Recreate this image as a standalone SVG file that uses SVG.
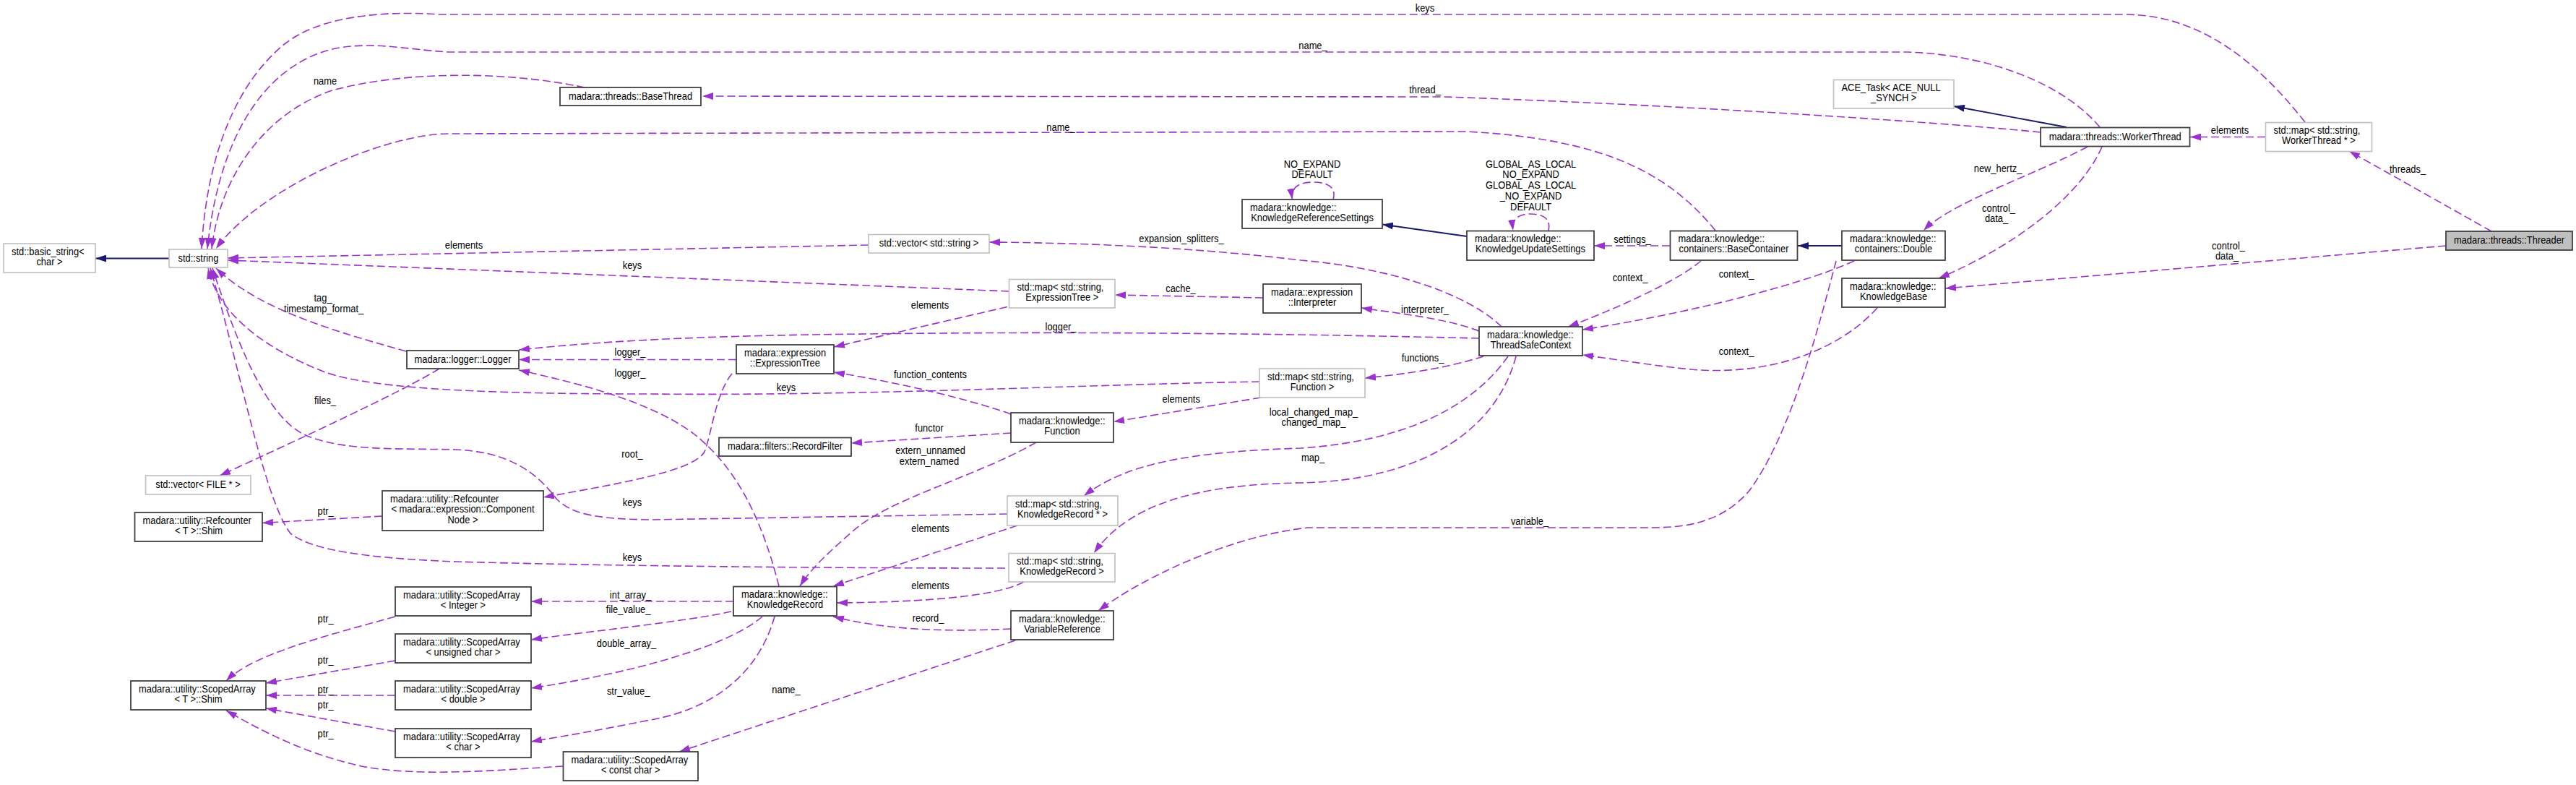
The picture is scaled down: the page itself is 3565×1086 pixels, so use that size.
<svg xmlns="http://www.w3.org/2000/svg" width="3565" height="1086" viewBox="0 0 3565 1086">
<style>
text{font-family:"Liberation Sans",Arial,sans-serif;font-size:15px;fill:#000;transform-box:fill-box;transform:scaleX(0.86)}
.m{text-anchor:middle;transform-origin:50% 50%}
.s{text-anchor:start;transform-origin:0 50%}
.nb{fill:#fff;stroke:#404040;stroke-width:1.8}
.ng{fill:#fff;stroke:#bfbfbf;stroke-width:1.6}
.nf{fill:#bfbfbf;stroke:#404040;stroke-width:1.8}
.e{fill:none;stroke:#9a32cd;stroke-width:1.6;stroke-dasharray:11,5;marker-end:url(#ap)}
.i{fill:none;stroke:#191970;stroke-width:1.8;marker-end:url(#an)}
</style>
<defs>
<marker id="ap" viewBox="0 0 15 10" refX="15" refY="5" markerWidth="15" markerHeight="10" markerUnits="userSpaceOnUse" orient="auto"><path d="M0,0 L15,5 L0,10 z" fill="#9a32cd"/></marker>
<marker id="an" viewBox="0 0 15 10" refX="15" refY="5" markerWidth="15" markerHeight="10" markerUnits="userSpaceOnUse" orient="auto"><path d="M0,0 L15,5 L0,10 z" fill="#191970"/></marker>
</defs>
<rect width="3565" height="1086" fill="#fff"/>
<g id="edges">
<g><path class="e" d="M3190,169 C3120,80 3040,20 2940,20 L610,20 C520,14 440,25 395,60 C320,120 285,230 279,344"/><text class="m" x="1972" y="16.5">keys</text></g>
<g><path class="e" d="M2906,176 C2860,120 2760,76 2640,72 L620,72 C560,68 520,58 470,66 C380,82 305,170 287,344"/><text class="m" x="1817" y="68.5">name_</text></g>
<g><path class="e" d="M809,121 C700,98 560,98 460,125 C370,155 305,240 293,344"/><text class="m" x="450" y="117.5">name</text></g>
<g><path class="e" d="M2374,319 C2310,240 2220,192 2030,182 L620,185 C530,186 360,260 299,344"/><text class="m" x="1468" y="181.5">name_</text></g>
<g><path class="e" d="M2824,183 C2750,175 2400,148 2000,134 L972,133"/><text class="m" x="1972" y="129">thread_</text></g>
<g><path class="i" d="M2860,176 L2704,147"/></g>
<g><path class="e" d="M3135,189.5 L3031,189.5"/><text class="m" x="3086" y="185">elements</text></g>
<g><path class="e" d="M3448,320 L3251,209"/><text class="m" x="3332" y="239.5">threads_</text></g>
<g><path class="e" d="M3385,340 L2692,399"/><text class="m" x="3084" y="345.5">control_</text><text class="m" x="3082" y="359.5">data_</text></g>
<g><path class="e" d="M2889,203 C2820,240 2700,280 2662,319"/><text class="m" x="2765" y="238.5">new_hertz_</text></g>
<g><path class="e" d="M2909,203 C2880,270 2790,340 2683,385"/><text class="m" x="2766" y="293.5">control_</text><text class="m" x="2763" y="307.5">data_</text></g>
<g><path class="i" d="M2549,340 L2488,340"/></g>
<g><path class="e" d="M2311,340 L2206,340"/><text class="m" x="2259" y="336">settings_</text></g>
<g><path class="i" d="M2030,327 L1913,310.5"/></g>
<g><path class="e" d="M1845,276 C1850,258 1836,252 1817,252 C1797,252 1786,260 1788.5,276"/><text class="m" x="1816" y="232.5">NO_EXPAND</text><text class="m" x="1816" y="246.5">DEFAULT</text></g>
<g><path class="e" d="M2143,319 C2147,302 2134,296 2118,296 C2100,296 2092,304 2094,319"/><text class="m" x="2118.6" y="232.5">GLOBAL_AS_LOCAL</text><text class="m" x="2118.6" y="246.5">NO_EXPAND</text><text class="m" x="2118.6" y="261.5">GLOBAL_AS_LOCAL</text><text class="m" x="2118.6" y="276.5">_NO_EXPAND</text><text class="m" x="2118.6" y="291">DEFAULT</text></g>
<g><path class="e" d="M2354,361 C2320,390 2230,430 2170,452"/><text class="m" x="2256" y="389.5">context_</text></g>
<g><path class="e" d="M2566,361 C2480,400 2300,440 2190,456"/><text class="m" x="2403" y="384.5">context_</text></g>
<g><path class="e" d="M2598,426 C2540,490 2440,520 2340,511 C2280,505 2230,496 2190,491"/><text class="m" x="2403" y="491.5">context_</text></g>
<g><path class="e" d="M2541,361 C2520,440 2480,600 2420,680 C2380,725 2330,730 2282,730 L1810,730 C1700,742 1580,800 1520,845"/><text class="m" x="2117" y="726.5">variable_</text></g>
<g><path class="e" d="M2047,458 C2000,440 1930,433 1884,426"/><text class="m" x="1972" y="433.5">interpreter_</text></g>
<g><path class="e" d="M1748,412 L1543,408"/><text class="m" x="1634" y="404.5">cache_</text></g>
<g><path class="e" d="M2078,452 C2030,405 1920,370 1800,360 C1650,342 1500,336 1369,335"/><text class="m" x="1635" y="335.5">expansion_splitters_</text></g>
<g><path class="e" d="M1202,339 L315,357"/><text class="m" x="642" y="344">elements</text></g>
<g><path class="e" d="M1396,403 C1200,395 900,383 315,360"/><text class="m" x="875" y="372.5">keys</text></g>
<g><path class="e" d="M1394,424.5 L1154,480"/><text class="m" x="1287" y="427.5">elements</text></g>
<g><path class="e" d="M1019,497.5 L718,497.5"/><text class="m" x="872" y="492.5">logger_</text></g>
<g><path class="e" d="M2047,468 C1800,462 1500,458 1200,462 C1000,464 850,470 718,484"/><text class="m" x="1468" y="457">logger_</text></g>
<g><path class="e" d="M1078,811 C1050,700 1010,640 960,600 C900,555 800,530 718,512"/><text class="m" x="872" y="521.5">logger_</text></g>
<g><path class="e" d="M608,510 C560,540 420,605 304,658"/><text class="m" x="450" y="559">files_</text></g>
<g><path class="e" d="M562,486 C470,460 360,430 299,371"/><text class="m" x="447" y="417.5">tag_</text><text class="m" x="448" y="432.5">timestamp_format_</text></g>
<g><path class="e" d="M1743,528 C1500,532 1200,548 900,545 C700,545 520,540 450,515 C360,480 300,430 288,371"/><text class="m" x="1088" y="541.5">keys</text></g>
<g><path class="e" d="M1394,711 L900,719 C820,718 790,710 770,690 C740,650 700,625 631,622 C560,620 480,625 425,603 C370,580 330,480 294,371"/><text class="m" x="875" y="700">keys</text></g>
<g><path class="e" d="M1391,786 C1100,786 800,782 631,777 C500,772 430,760 402,738 C365,690 330,500 291,371"/><text class="m" x="875" y="776">keys</text></g>
<g><path class="e" d="M1013,517 C990,545 985,600 975,625 C960,650 880,665 752,688"/><text class="m" x="875" y="633">root_</text></g>
<g><path class="e" d="M529,714 L363,723.5"/><text class="m" x="450.6" y="712.3">ptr_</text></g>
<g><path class="e" d="M1015,832 L735,832"/><text class="m" x="872.5" y="828.3">int_array_</text></g>
<g><path class="e" d="M1012,846 C950,860 800,875 735,885"/><text class="m" x="869.6" y="848">file_value_</text></g>
<g><path class="e" d="M1055,853 C1000,900 850,935 735,952"/><text class="m" x="867" y="895">double_array_</text></g>
<g><path class="e" d="M1072,853 C1050,930 990,980 900,996 C820,1012 770,1020 735,1026"/><text class="m" x="869.6" y="961.3">str_value_</text></g>
<g><path class="e" d="M547,853 C450,880 350,905 313,942"/><text class="m" x="450.6" y="861.4">ptr_</text></g>
<g><path class="e" d="M547,914 L368,945"/><text class="m" x="450.6" y="917.8">ptr_</text></g>
<g><path class="e" d="M547,962 L368,962"/><text class="m" x="450.6" y="958.9">ptr_</text></g>
<g><path class="e" d="M547,1012 L368,980"/><text class="m" x="450.6" y="979.8">ptr_</text></g>
<g><path class="e" d="M779.5,1060 C680,1066 580,1075 500,1060 C420,1042 360,1010 313,983"/><text class="m" x="450.6" y="1019.8">ptr_</text></g>
<g><path class="e" d="M1405,886 L940,1040"/><text class="m" x="1088" y="958.9">name_</text></g>
<g><path class="e" d="M1399,870 C1300,875 1220,870 1153,853"/><text class="m" x="1284.6" y="860.3">record_</text></g>
<g><path class="e" d="M1417,805 C1380,825 1280,833 1158,834"/><text class="m" x="1287.5" y="815">elements</text></g>
<g><path class="e" d="M1408,727 L1153,811"/><text class="m" x="1287.5" y="736">elements</text></g>
<g><path class="e" d="M1434,612 C1350,660 1230,690 1180,735 C1140,770 1120,790 1107,811"/><text class="m" x="1287.5" y="628">extern_unnamed</text><text class="m" x="1286" y="643">extern_named</text></g>
<g><path class="e" d="M1399,599 L1178,613"/><text class="m" x="1286" y="596.7">functor</text></g>
<g><path class="e" d="M1745,550 L1541,583.5"/><text class="m" x="1634.7" y="557.4">elements</text></g>
<g><path class="e" d="M1399,573 C1350,555 1250,530 1154,515"/><text class="m" x="1287.5" y="523">function_contents</text></g>
<g><path class="e" d="M2053,493 C2000,510 1940,518 1889,523"/><text class="m" x="1969" y="500.5">functions_</text></g>
<g><path class="e" d="M2087,493 C2040,560 1950,610 1800,620 C1650,625 1560,640 1500,686"/><text class="m" x="1818" y="575.5">local_changed_map_</text><text class="m" x="1818" y="589.5">changed_map_</text></g>
<g><path class="e" d="M2098,493 C2070,600 1960,665 1800,668 C1650,670 1560,700 1514,765"/><text class="m" x="1817" y="638.5">map_</text></g>
<g><path class="i" d="M234,357.5 L132,357.5"/></g>
</g>
<g id="n_basic_string"><rect class="ng" x="5" y="337" width="127" height="40"/><text class="s" x="16" y="353">std::basic_string&lt;</text><text class="m" x="68.5" y="367">char &gt;</text></g>
<g id="n_string"><rect class="ng" x="234" y="345" width="81" height="25"/><text class="m" x="274.5" y="362">std::string</text></g>
<g id="n_basethread"><rect class="nb" x="775" y="121" width="195" height="25"/><text class="m" x="872.5" y="138">madara::threads::BaseThread</text></g>
<g id="n_logger"><rect class="nb" x="563" y="485" width="155" height="25"/><text class="m" x="640.5" y="502">madara::logger::Logger</text></g>
<g id="n_vecfile"><rect class="ng" x="201.5" y="658" width="145.5" height="26"/><text class="m" x="274" y="675.5">std::vector&lt; FILE * &gt;</text></g>
<g id="n_rc_cn"><rect class="nb" x="529" y="679" width="223" height="55"/><text class="s" x="540" y="695">madara::utility::Refcounter</text><text class="m" x="640.5" y="709.5">&lt; madara::expression::Component</text><text class="m" x="640.5" y="724.5">Node &gt;</text></g>
<g id="n_rc_shim"><rect class="nb" x="186.5" y="709" width="176.5" height="40"/><text class="s" x="197.5" y="725">madara::utility::Refcounter</text><text class="m" x="275" y="739">&lt; T &gt;::Shim</text></g>
<g id="n_sa_int"><rect class="nb" x="547" y="812" width="188" height="40"/><text class="s" x="558" y="828">madara::utility::ScopedArray</text><text class="m" x="641" y="842">&lt; Integer &gt;</text></g>
<g id="n_sa_uchar"><rect class="nb" x="547" y="877" width="188" height="40"/><text class="s" x="558" y="893">madara::utility::ScopedArray</text><text class="m" x="641" y="907">&lt; unsigned char &gt;</text></g>
<g id="n_sa_double"><rect class="nb" x="547" y="942" width="188" height="40"/><text class="s" x="558" y="958">madara::utility::ScopedArray</text><text class="m" x="641" y="972">&lt; double &gt;</text></g>
<g id="n_sa_char"><rect class="nb" x="547" y="1008" width="188" height="40"/><text class="s" x="558" y="1024">madara::utility::ScopedArray</text><text class="m" x="641" y="1038">&lt; char &gt;</text></g>
<g id="n_sa_shim"><rect class="nb" x="181" y="942" width="187" height="40"/><text class="s" x="192" y="958">madara::utility::ScopedArray</text><text class="m" x="274.5" y="972">&lt; T &gt;::Shim</text></g>
<g id="n_sa_cchar"><rect class="nb" x="779.5" y="1040" width="186.5" height="40"/><text class="s" x="790.5" y="1056">madara::utility::ScopedArray</text><text class="m" x="872.75" y="1070">&lt; const char &gt;</text></g>
<g id="n_vecstr"><rect class="ng" x="1202" y="324.5" width="167" height="25.5"/><text class="m" x="1285.5" y="341.5">std::vector&lt; std::string &gt;</text></g>
<g id="n_map_et"><rect class="ng" x="1396.5" y="386.5" width="146.5" height="39.5"/><text class="s" x="1407.5" y="402.5">std::map&lt; std::string,</text><text class="m" x="1469.75" y="416.5">ExpressionTree &gt;</text></g>
<g id="n_et"><rect class="nb" x="1019" y="477" width="135" height="40"/><text class="s" x="1030" y="493">madara::expression</text><text class="m" x="1086.5" y="507">::ExpressionTree</text></g>
<g id="n_interp"><rect class="nb" x="1748" y="393" width="136" height="40"/><text class="s" x="1759" y="409">madara::expression</text><text class="m" x="1816" y="423">::Interpreter</text></g>
<g id="n_krs"><rect class="nb" x="1719" y="276" width="194" height="40"/><text class="s" x="1730" y="292">madara::knowledge::</text><text class="m" x="1816" y="306">KnowledgeReferenceSettings</text></g>
<g id="n_map_fn"><rect class="ng" x="1743" y="510" width="146" height="40"/><text class="s" x="1754" y="526">std::map&lt; std::string,</text><text class="m" x="1816" y="540">Function &gt;</text></g>
<g id="n_function"><rect class="nb" x="1399" y="571" width="142" height="41"/><text class="s" x="1410" y="587">madara::knowledge::</text><text class="m" x="1470" y="601">Function</text></g>
<g id="n_recfilter"><rect class="nb" x="995" y="605.5" width="183" height="25.5"/><text class="m" x="1086.5" y="622.5">madara::filters::RecordFilter</text></g>
<g id="n_kr"><rect class="nb" x="1015" y="811.5" width="143" height="40.5"/><text class="s" x="1026" y="827.5">madara::knowledge::</text><text class="m" x="1086.5" y="841.5">KnowledgeRecord</text></g>
<g id="n_map_krp"><rect class="ng" x="1394" y="686" width="153" height="41"/><text class="s" x="1405" y="702">std::map&lt; std::string,</text><text class="m" x="1470.5" y="716">KnowledgeRecord * &gt;</text></g>
<g id="n_map_kr"><rect class="ng" x="1396" y="765.5" width="147" height="39.5"/><text class="s" x="1407" y="781.5">std::map&lt; std::string,</text><text class="m" x="1469.5" y="795.5">KnowledgeRecord &gt;</text></g>
<g id="n_varref"><rect class="nb" x="1399" y="845" width="142" height="40"/><text class="s" x="1410" y="861">madara::knowledge::</text><text class="m" x="1470" y="875">VariableReference</text></g>
<g id="n_tsc"><rect class="nb" x="2047" y="452" width="143" height="40"/><text class="s" x="2058" y="468">madara::knowledge::</text><text class="m" x="2118.5" y="482">ThreadSafeContext</text></g>
<g id="n_kus"><rect class="nb" x="2030" y="319.5" width="176" height="40.5"/><text class="s" x="2041" y="335.5">madara::knowledge::</text><text class="m" x="2118" y="349.5">KnowledgeUpdateSettings</text></g>
<g id="n_bc"><rect class="nb" x="2311.5" y="319.5" width="176" height="40.5"/><text class="s" x="2322.5" y="335.5">madara::knowledge::</text><text class="m" x="2399.5" y="349.5">containers::BaseContainer</text></g>
<g id="n_double"><rect class="nb" x="2549" y="319.5" width="143" height="40.5"/><text class="s" x="2560" y="335.5">madara::knowledge::</text><text class="m" x="2620.5" y="349.5">containers::Double</text></g>
<g id="n_kb"><rect class="nb" x="2549" y="385" width="143" height="40"/><text class="s" x="2560" y="401">madara::knowledge::</text><text class="m" x="2620.5" y="415">KnowledgeBase</text></g>
<g id="n_ace"><rect class="ng" x="2537.5" y="110.5" width="166.5" height="39.5"/><text class="s" x="2548.5" y="126.5">ACE_Task&lt; ACE_NULL</text><text class="m" x="2620.75" y="140.5">_SYNCH &gt;</text></g>
<g id="n_wt"><rect class="nb" x="2824" y="176.5" width="206.5" height="26"/><text class="m" x="2927.25" y="194">madara::threads::WorkerThread</text></g>
<g id="n_map_wt"><rect class="ng" x="3135.5" y="169.5" width="147" height="40"/><text class="s" x="3146.5" y="185.5">std::map&lt; std::string,</text><text class="m" x="3209" y="199.5">WorkerThread * &gt;</text></g>
<g id="n_threader"><rect class="nf" x="3385" y="320" width="175" height="26"/><text class="m" x="3472.5" y="337.5">madara::threads::Threader</text></g>
</svg>
